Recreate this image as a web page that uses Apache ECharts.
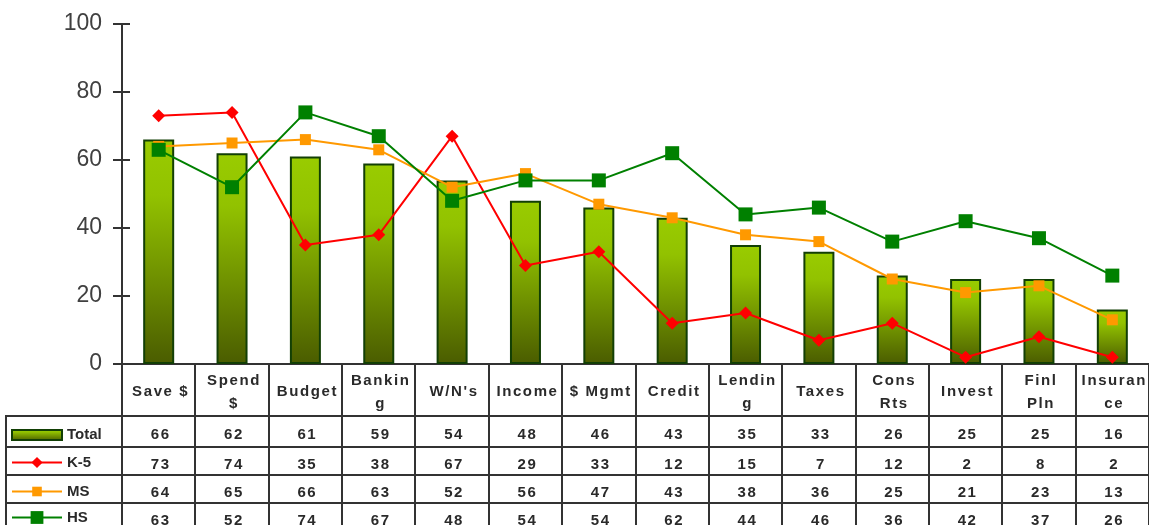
<!DOCTYPE html>
<html>
<head>
<meta charset="utf-8">
<script src="https://cdn.jsdelivr.net/npm/echarts@6/dist/echarts.min.js"></script>
<style>
  html, body { margin: 0; padding: 0; background: #fff; overflow: hidden; }
  #wrap { position: relative; width: 1149px; height: 525px; overflow: hidden; }
  #chart { position: absolute; left: 0; top: 0; width: 1149px; height: 525px; }
  #table { position: absolute; left: 0; top: 0; width: 1149px; height: 525px; pointer-events: none; }
  .ln { position: absolute; background: #333; }
  .cell {
    position: absolute; display: flex; align-items: center; justify-content: center;
    text-align: center; white-space: pre; font-family: "Liberation Sans", Arial, sans-serif;
    font-weight: bold; font-size: 15px; letter-spacing: 1.6px; color: #2a2a2a; line-height: 23px;
  }
</style>
</head>
<body>
<div id="wrap">
  <div id="chart"></div>
  <div id="table"></div>
</div>
<script>
// categories and header labels (as wrapped in the table)
const categories = ['Save $', 'Spend $', 'Budget', 'Banking', "W/N's", 'Income', '$ Mgmt', 'Credit', 'Lending', 'Taxes', 'Cons Rts', 'Invest', 'Finl Pln', 'Insurance']
const headerLabels = ['Save $', 'Spend\n$', 'Budget', 'Bankin\ng', "W/N's", 'Income', '$ Mgmt', 'Credit', 'Lendin\ng', 'Taxes', 'Cons\nRts', 'Invest', 'Finl\nPln', 'Insuran\nce']

// series values
const total = [66, 62, 61, 59, 54, 48, 46, 43, 35, 33, 26, 25, 25, 16]
const k5 = [73, 74, 35, 38, 67, 29, 33, 12, 15, 7, 12, 2, 8, 2]
const ms = [64, 65, 66, 63, 52, 56, 47, 43, 38, 36, 25, 21, 23, 13]
const hs = [63, 52, 74, 67, 48, 54, 54, 62, 44, 46, 36, 42, 37, 26]

// y axis ticks
const yMin = 0
const yMax = 100
const yStep = 20

const seriesNames = ['Total', 'K-5', 'MS', 'HS']
const seriesData = [total, k5, ms, hs]

const barGradient = new echarts.graphic.LinearGradient(0, 0, 0, 1, [
  { offset: 0, color: '#99cc00' },
  { offset: 0.25, color: '#92c200' },
  { offset: 1, color: '#4a5c00' }
])

const chart = echarts.init(document.getElementById('chart'), null, { renderer: 'canvas' })

// 表格行 (top edge of each row)
const rowTops = [416, 447, 475, 503, 531]
const legendSizes = [10, 14, 12, 16]

const option = {
  animation: false,
  grid: { left: 122, top: 24, width: 1034, height: 340 },
  legend: seriesNames.map((name, i) => ({
    data: [name],
    left: 11,
    top: (rowTops[i] + rowTops[i + 1]) / 2 - legendSizes[i] / 2 + 1,
    padding: 0,
    itemWidth: 50,
    itemHeight: legendSizes[i],
    icon: i === 0 ? 'rect' : undefined,
    selectedMode: false,
    textStyle: { fontFamily: 'Liberation Sans', fontWeight: 'bold', fontSize: 15, color: '#2a2a2a' }
  })),
  xAxis: {
    type: 'category',
    data: categories,
    axisLine: { lineStyle: { color: '#333', width: 2 } },
    axisTick: { show: false },
    axisLabel: { show: false }
  },
  yAxis: [
    {
      type: 'value', min: yMin, max: yMax, interval: yStep,
      axisLine: { show: true, lineStyle: { color: '#333', width: 2 } },
      axisTick: { show: true, length: 9, lineStyle: { color: '#333', width: 2 } },
      axisLabel: { fontFamily: 'Liberation Sans', fontSize: 23, color: '#404040', margin: 20 },
      splitLine: { show: false }
    },
    {
      type: 'value', min: yMin, max: yMax, interval: yStep, position: 'left',
      axisLine: { show: false },
      axisTick: { show: true, inside: true, length: 8, lineStyle: { color: '#333', width: 2 } },
      axisLabel: { show: false },
      splitLine: { show: false }
    }
  ],
  series: [
    {
      name: 'Total', type: 'bar', data: total, barWidth: 31,
      itemStyle: { color: barGradient, borderColor: '#123f05', borderWidth: 2 }
    },
    {
      name: 'K-5', type: 'line', data: k5, symbol: 'diamond', symbolSize: 13,
      itemStyle: { color: '#ff0000' }, lineStyle: { color: '#ff0000', width: 2 }
    },
    {
      name: 'MS', type: 'line', data: ms, symbol: 'rect', symbolSize: 11,
      itemStyle: { color: '#ff9900' }, lineStyle: { color: '#ff9900', width: 2 }
    },
    {
      name: 'HS', type: 'line', data: hs, symbol: 'rect', symbolSize: 14,
      itemStyle: { color: '#008000' }, lineStyle: { color: '#008000', width: 2 }
    }
  ]
}
chart.setOption(option)

// 数据表 — columns follow the category axis
const buildTable = () => {
  const box = document.getElementById('table')
  box.innerHTML = ''
  const cx = categories.map((c, i) => chart.convertToPixel({ xAxisIndex: 0 }, i))
  const band = cx[1] - cx[0]
  const axisY = chart.convertToPixel({ yAxisIndex: 0 }, yMin)
  const W = 1149, H = 525

  const line = (x, y, w, h) => {
    const d = document.createElement('div')
    d.className = 'ln'
    d.style.left = x + 'px'; d.style.top = y + 'px'
    d.style.width = w + 'px'; d.style.height = h + 'px'
    box.appendChild(d)
  }
  const cell = (x, y, w, h, text) => {
    const d = document.createElement('div')
    d.className = 'cell'
    d.style.left = x + 'px'; d.style.top = y + 'px'
    d.style.width = w + 'px'; d.style.height = h + 'px'
    d.textContent = text
    box.appendChild(d)
  }

  // horizontal rules
  for (let r = 0; r < 4; r++) line(6, rowTops[r] - 1, W - 6, 2)
  // left border of legend column
  line(5, rowTops[0] - 1, 2, H - rowTops[0] + 1)
  // column borders
  for (let i = 0; i <= categories.length; i++) {
    const x = cx[0] - band / 2 + i * band
    line(x - 1, axisY, 2, H - axisY)
  }
  // header
  headerLabels.forEach((t, i) => cell(cx[i] - band / 2 + 2, axisY + 1, band, rowTops[0] - axisY - 1, t))
  // rows
  seriesData.forEach((arr, r) => {
    arr.forEach((v, i) => cell(cx[i] - band / 2 + 2, rowTops[r] + 2, band, rowTops[r + 1] - rowTops[r], String(v)))
  })
}
buildTable()
</script>
</body>
</html>
